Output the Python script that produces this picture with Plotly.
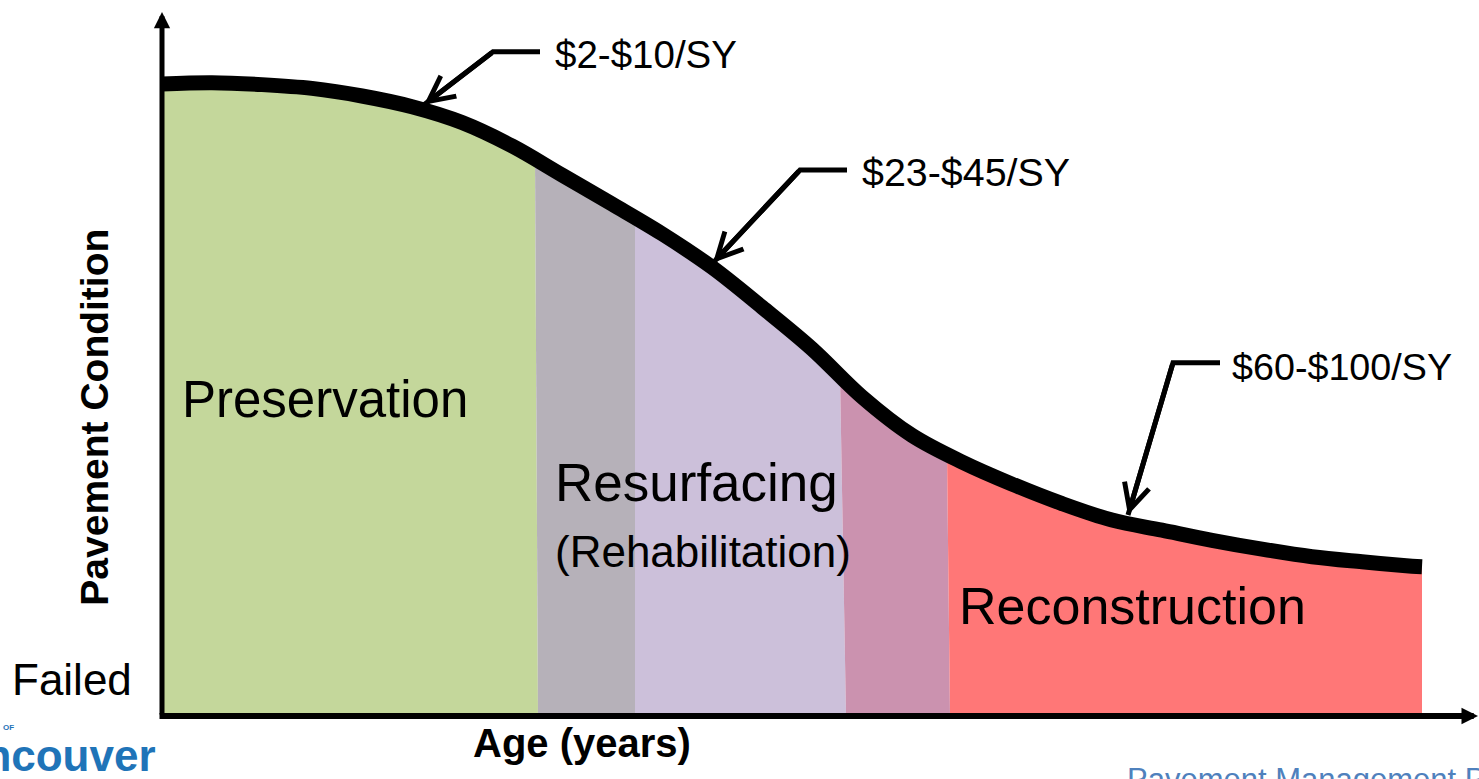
import numpy as np
import plotly.graph_objects as go

# ---------------- data ----------------
age = [0, 1, 2, 3, 4, 5, 6, 7, 8, 9, 10, 11, 12, 13, 14, 15, 16, 17, 18, 19,
       20, 21, 22, 23, 24, 25, 25.2]
condition = [100.0, 100.2, 99.9, 99.3, 98.1, 96.4, 93.9, 90.2, 85.6, 81.0,
             76.3, 71.0, 64.7, 58.1, 50.5, 44.4, 40.2, 36.7, 33.6, 31.0,
             29.4, 27.8, 26.4, 25.2, 24.4, 23.7, 23.6]

band_names = ["Preservation", "Transition 1", "Resurfacing", "Transition 2", "Reconstruction"]
band_top_start = [0.0, 7.46, 9.46, 13.56, 15.70]
band_top_end = [7.46, 9.46, 13.56, 15.70, 25.2]
band_bottom_start = [0.0, 7.52, 9.46, 13.68, 15.76]
band_bottom_end = [7.52, 9.46, 13.68, 15.76, 25.2]
band_colors = ["#C4D79B", "#B6B1B9", "#CCC0DA", "#CB92AF", "#FF7777"]

zone_labels = ["Preservation", "Resurfacing", "(Rehabilitation)", "Reconstruction"]
zone_label_x = [0.36, 7.82, 7.82, 15.90]
zone_label_y = [50.0, 37.0, 26.1, 17.4]
zone_label_size = [51, 53, 44, 52]

cost_labels = ["$2-$10/SY", "$23-$45/SY", "$60-$100/SY"]
cost_label_size = [38.5, 39.4, 37.7]
cost_text_x = [7.82, 13.96, 21.36]
cost_text_y = [104.6, 86.1, 55.2]
leader_end_x = [7.56, 13.70, 21.16]
elbow_x = [6.62, 12.76, 20.22]
elbow_y = [105.1, 86.4, 55.9]
tip_x = [5.24, 11.02, 19.32]
tip_y = [96.7, 71.7, 31.8]

y_axis_tip = 111.4
x_axis_tip = 26.32
x_range = [-3.24, 26.34]
y_range = [-9.97, 113.29]

FONT = "Liberation Sans, Arial, sans-serif"


def cond_at(a):
    return float(np.interp(a, age, condition))


fig = go.Figure()

# coloured treatment bands under the curve
for i in range(len(band_names)):
    ts, te = band_top_start[i], band_top_end[i]
    inner = [a for a in age if ts < a < te]
    xs = [band_bottom_start[i], ts] + inner + [te, band_bottom_end[i]]
    ys = [0, cond_at(ts)] + [cond_at(a) for a in inner] + [cond_at(te), 0]
    fig.add_trace(go.Scatter(x=xs, y=ys, fill="toself", fillcolor=band_colors[i],
                             mode="lines", line=dict(width=0), name=band_names[i],
                             hoverinfo="skip", showlegend=False))

# deterioration curve
fig.add_trace(go.Scatter(x=age, y=condition, mode="lines",
                         line=dict(color="black", width=15, shape="spline", smoothing=1.0),
                         showlegend=False, hoverinfo="skip"))

# leaders for cost labels
for i in range(len(cost_labels)):
    fig.add_trace(go.Scatter(x=[leader_end_x[i], elbow_x[i], tip_x[i]],
                             y=[elbow_y[i], elbow_y[i], tip_y[i]],
                             mode="lines", line=dict(color="black", width=5),
                             showlegend=False, hoverinfo="skip"))
    fig.add_annotation(x=tip_x[i], y=tip_y[i], ax=elbow_x[i], ay=elbow_y[i],
                       axref="x", ayref="y", xref="x", yref="y", text="",
                       showarrow=True, arrowhead=5, arrowwidth=5, arrowsize=1,
                       arrowcolor="black", standoff=0)
    fig.add_annotation(x=cost_text_x[i], y=cost_text_y[i], text=cost_labels[i],
                       showarrow=False, xanchor="left", yanchor="middle",
                       font=dict(family=FONT, size=cost_label_size[i], color="black"))

# axes with arrowheads
fig.add_annotation(x=0, y=y_axis_tip, ax=0, ay=0, axref="x", ayref="y",
                   text="", showarrow=True, arrowhead=2, arrowwidth=5, arrowsize=0.65,
                   arrowcolor="black", standoff=0)
fig.add_annotation(x=x_axis_tip, y=0, ax=-0.08, ay=0, axref="x", ayref="y",
                   text="", showarrow=True, arrowhead=2, arrowwidth=6, arrowsize=0.55,
                   arrowcolor="black", standoff=0)

# zone labels
for i in range(len(zone_labels)):
    fig.add_annotation(x=zone_label_x[i], y=zone_label_y[i], text=zone_labels[i],
                       showarrow=False, xanchor="left", yanchor="middle",
                       font=dict(family=FONT, size=zone_label_size[i], color="black"))

# axis titles and extra texts
fig.add_annotation(x=-1.34, y=47.2, text="<b>Pavement Condition</b>", textangle=-90,
                   showarrow=False, xanchor="center", yanchor="middle",
                   font=dict(family=FONT, size=39, color="black"))
fig.add_annotation(x=8.39, y=-4.27, text="<b>Age (years)</b>", showarrow=False,
                   xanchor="center", yanchor="middle",
                   font=dict(family=FONT, size=40, color="black"))
fig.add_annotation(x=-3.04, y=5.7, text="Failed", showarrow=False,
                   xanchor="left", yanchor="middle",
                   font=dict(family=FONT, size=44, color="black"))
fig.add_annotation(x=-0.08, y=-2.0, text="<b>Vancouver</b>", showarrow=False,
                   xanchor="right", yanchor="top",
                   font=dict(family=FONT, size=44, color="#1F74B8"))
fig.add_annotation(x=-3.22, y=-1.75, text="<b>OF</b>", showarrow=False,
                   xanchor="left", yanchor="middle",
                   font=dict(family=FONT, size=8, color="#1F74B8"))
fig.add_annotation(x=19.26, y=-6.96, text="Pavement Management Program", showarrow=False,
                   xanchor="left", yanchor="top",
                   font=dict(family=FONT, size=31, color="#4F81BD"))

fig.update_xaxes(range=x_range, visible=False, fixedrange=True)
fig.update_yaxes(range=y_range, visible=False, fixedrange=True)
fig.update_layout(width=1479, height=779, margin=dict(l=0, r=0, t=0, b=0),
                  paper_bgcolor="white", plot_bgcolor="white", showlegend=False)

fig.write_html("out.html", config={"displayModeBar": False},
               post_script="document.body.style.margin='0px';")
